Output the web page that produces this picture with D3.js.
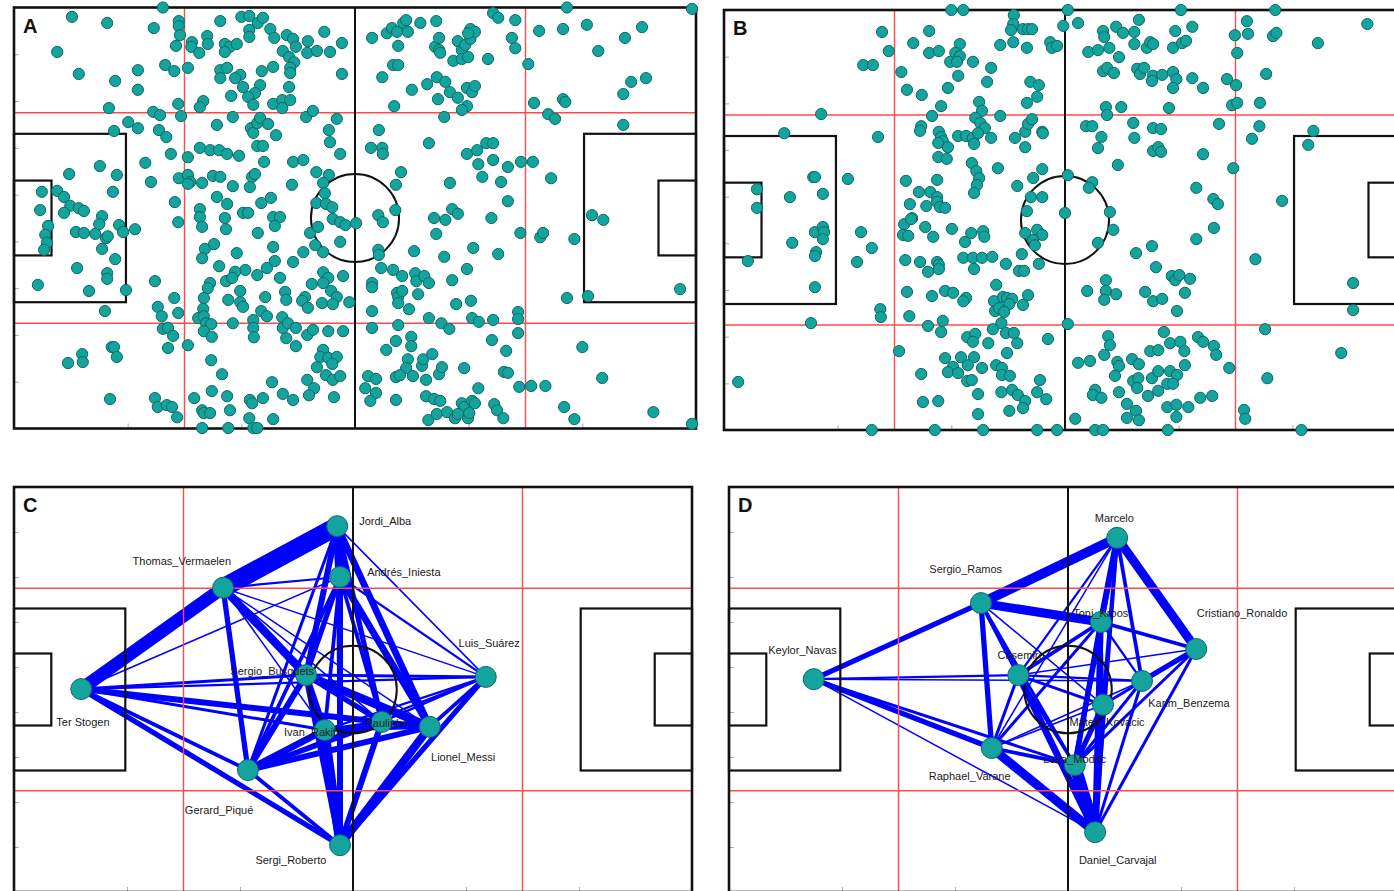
<!DOCTYPE html>
<html>
<head>
<meta charset="utf-8">
<script src="https://cdn.jsdelivr.net/npm/d3@7"></script>
<style>
  html, body { margin: 0; padding: 0; background: #ffffff; }
  svg { display: block; font-family: "Liberation Sans", Arial, Helvetica, sans-serif; }
</style>
</head>
<body>
<svg id="chart" width="1394" height="891"></svg>
<script>
// Pitch coordinates: x along the length (0–120), y across the width (0–90, measured from the top touchline).

// Event locations, team A (panel A)
const touchesA = [
[26.2,0],[10.2,2],[16.4,3.3],[24.6,4.4],[29,2.9],[29,4],[29.2,5.9],[7.6,9.5],[11.4,14.2],[17.8,15.7],[21.8,13.4],[21.8,17.6],[26.6,12.3],[28.2,13.6],[28.5,8.2],[30.6,12.9],[31.3,7.4],[31.2,8.4],[32.6,9.7],[34,6.1],[34.1,7.8],[36.3,2.9],[40,2],[41.4,1.8],[42.9,3.3],[43.8,2.2],[41.4,4.8],[41.4,6.3],[45.1,4.6],[45.8,6.5],[37.1,7.8],[38,8.4],[39.2,7.8],[37.1,9.5],[48,5.9],[49.1,6.7],[49.6,8.4],[47.3,9.3],[48.4,10.6],[49.3,11.7],[51.7,7.2],[51.6,9.7],[53.3,9.3],[54.6,5.2],[55.6,9.5],[57.7,7.6],[48.6,12.9],[48.6,14],[48.4,17],[45.6,12.7],[43.6,13.6],[43.3,16.6],[42.4,18.3],[41.2,19.1],[42.1,20.8],[45.6,20.6],[47.2,19.8],[47.2,21.5],[48.6,19.8],[39.8,14.4],[38.9,15.1],[36.3,13.4],[36.3,15.1],[37.5,12.9],[40.3,17],[38.2,18.9],[33.3,20],[32.7,21.3],[28.9,20.6],[29.4,23.2],[16.7,21.5],[24.5,22.3],[25.7,23],[20.1,24.5],[21.8,25.8],[17.6,26.4],[25.5,26.2],[26.8,27.7],[27.6,31.3],[23.1,33.2],[24.1,37.3],[28.3,41.6],[29,36.5],[30.6,32],[30.6,35.8],[31,37.3],[30.6,37.7],[32.7,30],[34.5,30.5],[36.1,30.5],[37.5,31.3],[39.6,31.7],[35.7,25.1],[38.5,23.4],[41.7,25.8],[42.1,26.8],[42.8,24.7],[43.3,23.6],[44.7,24.9],[46.1,27.3],[42.8,29.6],[43.8,29.6],[44,33],[49.1,33],[50.9,32.6],[51.4,23.4],[52.6,22.1],[56.8,23.8],[55.4,26.2],[55.6,28.8],[57.4,31.3],[53.2,35.2],[55.4,35.8],[54.4,37.5],[48.9,37.9],[41.9,36.2],[42.4,35.6],[41.5,38.4],[38.5,38.2],[35,36],[36.3,36.2],[33.1,37.5],[35.7,40.5],[37.5,42],[32.7,43.1],[40.3,43.9],[41.2,43.9],[43.5,41.8],[45.2,40.7],[45.6,44.8],[46.8,44.8],[54.7,39.7],[53.2,41.8],[54.9,42],[56,42.7],[15.1,33.9],[18.1,35.8],[17.4,39.4],[9.7,35.6],[4.9,39.4],[4.6,43.3],[7.6,39.2],[8.8,40.5],[9.9,42.4],[11.4,42.9],[12.3,43.5],[8.8,43.9],
[15.5,44.6],[6,46.7],[5.5,48.6],[5.8,50.3],[5.3,51.8],[10.9,48],[12.3,48.2],[14.3,48.4],[16.2,49.3],[16.5,48.9],[15,46.3],[18.5,46.5],[19.2,48],[21.3,47.4],[15.5,51.6],[17.8,53.8],[11.1,55.7],[16.4,56.8],[16.4,58],[4.2,59.3],[13.2,60.6],[19.7,60.4],[16,64.9],[24.8,58.5],[28.2,62.1],[25.3,64],[26,66],[28.9,65.3],[26.2,68.7],[27.1,68.5],[28,70.2],[27.1,72.8],[30.6,72.2],[28.9,45.9],[32.7,44.8],[33.1,46.9],[37.1,45],[37.3,47.4],[42.9,48.2],[45.9,46.7],[45.6,51.2],[33.6,51.6],[33.1,53.6],[35.2,50.6],[39.2,52.5],[36.1,55.3],[40.7,56.1],[38.9,56.5],[37.3,58.5],[38.4,57.8],[42.8,57.2],[44.5,55.7],[45.9,54.2],[46.8,57.8],[49.1,54.4],[50.9,52.3],[53,50.8],[54.4,52.3],[52.1,48.2],[53.5,46.9],[57.4,50.1],[56.1,45.2],[57.4,45.9],[58.3,46.5],[34.5,58.9],[34.1,60],[33.4,62.1],[39.8,60.6],[37.7,62.5],[39.8,63],[40.3,64],[44.2,61.9],[47.7,60.8],[47.9,62.5],[51.2,61.9],[50.7,62.7],[51.7,64.2],[54.2,63.2],[52.4,59.1],[54.4,56.6],[55.3,57.8],[54.4,58.9],[57.9,57.4],[55.8,60.6],[56.8,61.9],[56.1,63.4],[59,63],[33.3,64.4],[32.4,66.4],[33.4,66],[33.8,67.5],[34.7,67.7],[33.4,69.2],[34.8,70.4],[38.5,67.5],[42.1,66.8],[42.1,68.5],[42.2,70.5],[43.5,64.9],[44.5,66],[47.2,66.2],[47.3,68.5],[48.2,67.5],[49.6,68.5],[47.9,70.7],[49.6,72.4],[51.6,70],[52.6,68.9],[55.3,69.2],[57.9,69.2],[54.4,73.2],[53.9,74.7],[55.3,74.9],[56.8,74.7],[53.3,76.9],[56,76.2],[54.9,78.6],[56.1,79.6],[57.4,78.8],[51.6,79.6],[52.8,81.4],[51.9,82.9],[56.3,83.3],[34.7,75.4],[36.6,78.4],[45.4,80.1],[47.3,82.6],[49.1,83.9],[34.8,82],[37.5,83.1],[38,86.1],[31.7,83.5],[33.1,86.1],[33.4,86.7],[34.5,86.7],[41.5,83.9],[41.9,84.6],[43.8,83.5],[41.4,87.8],[45.6,88],[33.1,89.9],[37.7,89.9],[42.1,89.9],[42.8,89.9],[16.9,83.7],[17.2,72.6],[17.6,72.6],[18.1,74.7],[12,74.1],[12.1,75.8],[9.5,76],[24.8,83.5],[25.3,85.4],[26.9,85],[27.8,85.4],[28.7,87.6],
[57.7,14.2],[63,6.5],[65.6,5.5],[66.5,4.4],[67.4,5.2],[68.5,3.3],[69,2.7],[69.3,5.2],[71.5,3.3],[74.3,2.9],[67.6,8.2],[66.7,12.3],[67.6,12.3],[64.8,14.9],[70,17.6],[72.7,16.4],[66.9,21.1],[74.1,8.4],[74.8,9.1],[74.8,6.5],[75,9.7],[78.1,7.2],[78.8,9.1],[79.4,8],[80.3,6.7],[80.3,4.6],[81.1,5.2],[79.9,5.5],[77.3,11.4],[78.8,11],[79.9,10.6],[83.4,11],[84.3,1.2],[85.2,2.2],[88.2,2.7],[87.6,6.5],[88.2,8.7],[74.4,14.9],[75.9,15.9],[76.7,18.1],[78.1,19.3],[74.6,19.6],[79.7,17.2],[80.6,18.1],[81.1,16.8],[79.7,21.1],[78.8,21.9],[75.7,23.4],[90.5,12.1],[91.5,20.4],[92.4,5],[96.6,4.6],[97.3,0],[100.8,3.7],[96.6,19.6],[97,20.2],[94,22.8],[95.2,23.8],[102.8,9.3],[107.5,6.5],[110.5,4.2],[107.2,18.5],[108.6,15.9],[111.2,15.1],[107.2,25.1],[119.3,0.3],[64.2,26.2],[62.8,30],[64.8,30],[64.9,31.3],[73,29],[79.7,31.3],[81.5,30.5],[83.1,29],[84.3,29],[81.7,33.5],[84.3,32.6],[86.9,34.1],[89.2,33],[91.3,33],[82.4,36.2],[85.7,37.3],[94.5,36.5],[68.1,35.2],[67.2,37.9],[76.7,37.5],[86.9,41.4],[77.1,43.1],[78.1,44.1],[67.1,43.3],[64.1,44.4],[73.9,45],[75.9,45.4],[84,45],[101.7,44.4],[103.7,45.4],
[64.9,45.9],[60.2,46.1],[74.3,48.4],[70.4,52.1],[75.7,53.3],[80.8,51.4],[85.2,52.7],[89.1,48.2],[92.6,49.1],[93.1,48.2],[98.6,49.5],[64.1,51.8],[64.2,52.9],[64.6,55.7],[66.7,56.1],[68.3,57.4],[70.6,56.8],[70.8,58.5],[72.2,57.4],[73,58.9],[63,58.9],[63,59.8],[77.1,58.3],[79.7,55.9],[67.4,61],[67.6,61.9],[68.3,60.6],[67.6,63.2],[71.1,61.3],[63,64.9],[69.5,64.5],[73,66.4],[77.8,63.4],[80.4,62.7],[75.2,67.5],[76.6,68.7],[80.6,66.4],[81.8,67.2],[84.3,66.8],[88.7,65.1],[88.7,66.6],[88.7,69.6],[63,68.5],[67.6,67.9],[69.9,70.4],[69.9,72.4],[65.5,73.2],[67.2,71.3],[69.3,75.2],[69,77.1],[71.8,76.6],[72,75.2],[73.6,74.1],[67.2,79],[67.9,78.6],[70.2,78.8],[72.5,79.6],[74.8,78.4],[75.3,76.9],[62.3,78.8],[63.7,79.4],[61.8,81.4],[63.7,82.4],[62.7,84.1],[67.2,83.9],[72.5,83.1],[73.9,83.7],[75,84.1],[79.2,77.1],[84.1,71.1],[86.6,73.4],[86.2,77.9],[86.9,78.1],[81.7,81.4],[88.9,81.1],[91,80.9],[93.5,80.9],[78.8,84.6],[79.2,85.4],[80.6,84.1],[81.1,84.6],[72.9,88.2],[74.4,86.9],[76.2,86.5],[77.6,87.8],[78.1,86.9],[79.9,87.8],[80.1,86.7],[84.5,84.8],[85,86.1],[86.1,87.8],[96.8,85.4],[98.6,88],[100,72.6],[101,61.7],[97.3,62.1],[103.5,79.2],[112.5,86.5],[117.2,60.2],[119.3,89]
];

// Event locations, team B (panel B)
const touchesB = [
[40,0],[42.1,0],[27.8,4.7],[29,8.8],[24.5,11.8],[26.2,11.8],[31.2,13.3],[32.2,17.1],[34.8,18.2],[33.3,7.1],[36.1,4.5],[36.1,9.2],[37.8,8.8],[41.5,7.3],[40.7,9.2],[41.5,9.9],[39.8,11.1],[41,11.1],[43.8,11.1],[41.2,14.1],[39.4,16.7],[38.2,20.6],[47,12.4],[46.3,15.4],[44.9,19.7],[45.4,21.6],[48.6,7.5],[51,1.1],[50.9,3],[50.5,4.3],[50.9,6.9],[52.6,4.1],[53.5,4.1],[54.2,4.1],[53.3,8.1],[53.9,15.4],[55.4,16.1],[53.3,19.9],[55.1,18.6],[57.4,6.9],[57.7,8.1],[58.6,7.7],[36.6,22.7],[34.7,24.9],[34.5,25.9],[37.8,26.1],[38.2,27.2],[38.5,28.1],[37.7,28.5],[39.4,29.4],[41.2,27],[42.6,27],[43.8,27.4],[44,28.7],[44.2,23.1],[45.1,24.2],[45.9,25.3],[44.7,26.4],[47,27.4],[48.6,22.7],[51.2,27.4],[53,29.4],[53,26.1],[53.5,24.4],[54.2,23.4],[56,26.1],[37.7,31.5],[39.2,31.9],[43.6,32.8],[44.4,34.5],[44.9,36],[44.5,37.5],[44,39.2],[48.2,33.9],[56,34.1],[54.4,36],[51.6,37.7],[54,40.1],[56,40.1],[53.3,43.1],[32,36.6],[37.5,36.4],[34.3,39],[36.3,39],[37.5,40.1],[37.5,41.1],[38,42.2],[38.9,42.4],[32.7,41.6],[35.6,42],[33.1,44.6],[17.1,22.3],[10.6,26.4],[27.1,27.2],[15.7,35.8],[16,35.8],[21.8,36.2],[5.8,38.4],[5.8,42.4],[11.6,40.1],[17.4,39.4],
[60.5,0],[59.7,3.4],[62.3,2.8],[64.1,9],[65.8,8.6],[67.8,8.1],[66.7,4.5],[66.9,5.8],[69,3.6],[70.2,4.9],[72.2,4.7],[73,2.1],[69.5,10.1],[72.2,7.3],[74.4,8.1],[75,6.9],[75.5,7.3],[79.4,4.5],[79,8.1],[80.6,7.1],[81.3,6.6],[82.4,3.6],[80.4,0],[66.7,13.1],[67.4,12.4],[68.6,13.5],[72.7,12.6],[73.2,13.7],[73.9,12.4],[75.5,14.1],[75.3,15.2],[77.1,13.9],[79,13.3],[79.6,14.8],[79,16.7],[82.4,14.6],[84.3,16.7],[67.2,20.8],[67.4,22.5],[69.9,20.8],[78.3,21],[88.5,14.8],[90.1,16.1],[89.4,20.4],[90.3,19.9],[89.9,5.4],[90.3,9.2],[92,2.4],[92.2,5.1],[96.6,5.6],[97.2,4.9],[97,0],[95.4,13.7],[94.3,19.9],[104.5,7.1],[113.2,3],[56.1,26.4],[63.7,24.9],[64.8,24.9],[66.4,27.2],[65.8,29.6],[72,24.2],[72.2,27.4],[75.5,25.3],[76.9,25.5],[75.5,30.2],[76.4,29.4],[76.9,30.4],[69.3,33.2],[84.3,30.9],[87.1,24.4],[89.6,33.9],[94.2,24.9],[92.9,27.6],[103.7,25.9],[102.8,28.9],[60.5,35.4],[64.8,36.9],[64.2,38.1],[83.1,38.1],[86.1,40.5],[86.9,41.6],[98.2,40.9],[60,43.5],[67.9,43.3],
[16,47.6],[17.4,46.5],[17.6,47.6],[17.4,49.1],[12,49.9],[16.2,51.9],[16,52.7],[4.2,53.8],[16,59.4],[24.1,47.6],[26,51],[23.4,54],[27.5,64.1],[27.6,65.8],[15.3,67.1],[2.5,79.7],[30.8,73.1],[31.7,45.9],[31.5,48.2],[32.4,48.4],[32.9,44.8],[35.4,46.5],[36.8,48.6],[40.1,46.9],[43.5,47.8],[42.4,49.7],[45.6,47.4],[45.8,48.6],[31.9,53.6],[34.5,54],[35.9,56.1],[37.5,54],[37.8,54.6],[37.8,55.5],[42.1,53.1],[43.8,53.1],[45.4,53.1],[47.2,52.9],[44,55.5],[49.6,54.4],[52.4,52.3],[51.9,55.9],[52.8,55.9],[55.4,54.4],[53,47.8],[55.1,47.1],[56,48.2],[54.4,49.3],[54.7,50.4],[32.2,60.4],[36.6,61.3],[38.9,60.2],[40.3,60.6],[42.6,61.7],[42.1,62.4],[47.9,58.9],[47.5,62.4],[49.1,61.5],[49.8,61.7],[50.7,61.9],[50.2,63],[53.5,61.1],[52.6,63.2],[47.7,64.5],[48.4,63.9],[49.3,64.7],[48.8,67.1],[32.6,65.6],[35.9,67.7],[38.5,66.6],[38.2,69],[42.8,70.1],[44.2,69.4],[43.8,71.1],[46.5,71.4],[47.3,68.4],[49.6,69.2],[51,69.2],[51.6,71.4],[57,70.5],[38.9,74.6],[41.7,74.4],[44,74.4],[42.9,76.1],[45.4,76.7],[40.3,76.5],[39.4,77.6],[41.2,77.8],[34.7,78],[42.8,79.5],[43.6,79.3],[47.9,76.1],[48.9,76.7],[48.9,78.2],[50.3,78.4],[49.8,73.5],[44.7,82.3],[48.8,81.9],[50.7,81.4],[51.7,82.5],[53,83.8],[52.6,85.3],[55.1,81.9],[56.7,83.4],[55.6,79.3],[35,84],[37.7,83.8],[44.7,86.6],[50.2,85.9],[26,90],[37.1,90],[45.6,90],[55.1,90],[58.6,90],
[68.5,47.1],[65.8,49.9],[72.5,52.1],[75.3,50.6],[76,55.1],[83.1,49.1],[86.2,46.7],[78.8,57],[79.4,57.9],[80.1,56.8],[82,57.6],[67.2,57.9],[67.2,60.2],[66.9,62.1],[69,60.9],[63.9,60.2],[74.1,60.4],[75.5,62.4],[77.1,61.9],[81.1,60.6],[79.7,64.5],[60.5,67.3],[93.5,53.4],[110.7,58.5],[110.7,64.3],[95.2,68.4],[108.6,73.5],[95.6,78.9],[91.5,85.7],[91.7,87.6],[101.6,90],[67.6,69.9],[67.9,71.8],[66.9,73.9],[62.3,75.6],[64.4,75.2],[69.2,75.4],[69.5,76.3],[68.8,78.4],[71.8,74.8],[73,75.9],[75,73.1],[76.4,72.9],[77.4,69],[78.5,71.4],[80.3,71.1],[81,73.1],[83.4,70.1],[84.3,71.1],[86.2,72],[86.6,73.9],[88.9,76.7],[81.1,76.1],[72,79.5],[72.9,78.9],[72.7,81],[75.3,78.9],[76.4,77.4],[78.5,77.4],[79.7,78.2],[78,80.1],[79,80.1],[65.3,81.4],[64.9,82.5],[66.4,83.1],[69.5,81.9],[74.6,82.7],[76.4,81.6],[83.8,83.1],[85.9,82.7],[70.9,84.4],[72.5,85.9],[70.9,87.4],[73,87.9],[78,85.1],[79.6,84.6],[79.6,87.2],[81.7,85.1],[61.8,87.6],[65.3,90],[66.7,90],[78.1,90]
];

// Passing network, panel C
const playersC = ["Ter Stogen","Thomas_Vermaelen","Jordi_Alba","Andrés_Iniesta","Sergio_Busquets","Ivan_Rakitic","Paulinho","Lionel_Messi","Luis_Suárez","Gerard_Piqué","Sergi_Roberto"];
const avgPosC = [[11.9,44.9],[37.0,22.4],[57.2,8.7],[57.7,20.0],[51.7,41.8],[55.0,54.0],[65.1,52.2],[73.6,53.3],[83.5,42.2],[41.4,62.9],[57.7,79.6]];
const labelAtC = [[12.2,52.2],[29.7,16.4],[65.7,7.6],[69.0,18.9],[45.7,40.9],[53.1,54.4],[66.0,52.4],[79.5,60.0],[84.1,34.7],[36.3,71.8],[49.0,82.9]];
// [passer index, receiver index, passes]
const passesC = [
[1,2,25],[0,1,17],[2,3,12],[2,7,9],[2,6,7],[2,4,8],[2,10,4],[2,8,2],[2,9,4],[0,3,2],[1,3,3],[3,4,7],[3,7,9],[3,6,5],[3,5,5],[3,10,8],[3,9,5],[3,8,3],
[1,4,11],[1,9,7],[1,8,2],[1,7,2],[1,6,2],[1,5,2],[0,6,8],[0,7,5],[0,5,4],[0,4,4],[0,8,3],[0,9,5],[0,10,7],
[4,7,11],[4,6,7],[4,5,8],[4,9,8],[4,10,8],[4,8,4],[9,5,9],[9,6,7],[9,7,8],[9,10,5],[9,8,3],
[5,10,12],[5,7,5],[5,6,5],[5,8,3],[10,7,11],[10,6,8],[10,8,7],[7,8,5],[6,8,3],[6,7,7]
];

// Passing network, panel D
const playersD = ["Keylor_Navas","Sergio_Ramos","Marcelo","Toni_Kroos","Cristiano_Ronaldo","Casemiro","Karim_Benzema","Mateo_Kovacic","Raphael_Varane","Luka_Modric","Daniel_Carvajal"];
const avgPosD = [[15.0,42.7],[44.6,25.8],[68.7,11.3],[65.8,30.0],[82.7,36.0],[51.2,41.8],[73.1,43.1],[66.2,48.4],[46.5,58.0],[61.2,61.8],[64.8,76.7]];
const labelAtD = [[13.0,36.3],[41.9,18.3],[68.2,6.8],[65.8,28.1],[90.8,28.1],[51.7,37.3],[81.4,47.9],[66.9,52.2],[42.6,64.2],[61.2,60.4],[68.8,82.9]];
const passesD = [
[1,2,13],[1,3,12],[2,4,12],[0,1,7],[0,8,7],[0,5,3],[0,6,2],[0,10,2],[0,9,4],[1,8,7],[1,5,5],[1,9,4],[1,7,2],[1,10,1],
[2,3,8],[2,5,3],[2,6,5],[2,7,5],[2,9,7],[2,10,5],[2,8,2],[3,4,5],[3,5,5],[3,8,4],[3,9,7],[3,10,8],[3,6,3],[3,7,4],
[4,6,7],[4,10,4],[4,7,4],[4,9,4],[4,5,2],[5,8,4],[5,10,9],[5,7,4],[5,6,3],[5,9,4],
[8,10,12],[8,9,5],[8,6,2],[8,7,2],[9,10,16],[9,7,7],[9,6,4],[10,7,8],[10,6,4]
];

// Axis tick positions (unlabelled)
const xTicks = [20, 40, 60, 80, 100];
const yTicks = [10, 20, 30, 40, 50, 60, 70, 80];

// Pitch markings in pitch units
const LENGTH = 120, WIDTH = 90;
const penaltyDepth = 19.7, penaltyTop = 27, penaltyBottom = 63;
const goalDepth = 6.6, goalTop = 37, goalBottom = 53;
const circleRadius = 7.75;

const svg = d3.select("#chart");
const TEAL = "#14a39d", TEAL_EDGE = "#0a6a66";

const panels = [
  { id: "A", left: 14,  top: 7.5, width: 682, height: 421 },
  { id: "B", left: 724, top: 10,  width: 682, height: 420 },
  { id: "C", left: 14,  top: 487, width: 678, height: 405 },
  { id: "D", left: 729, top: 487, width: 678, height: 405 }
];

function scalesFor(p) {
  return {
    x: d3.scaleLinear().domain([0, LENGTH]).range([p.left, p.left + p.width]),
    y: d3.scaleLinear().domain([0, WIDTH]).range([p.top, p.top + p.height])
  };
}

function drawTicks(g, s, p) {
  const left = g.append("g").attr("transform", `translate(${p.left},0)`)
    .call(d3.axisLeft(s.y).tickValues(yTicks).tickSize(-5).tickFormat(""));
  const bottom = g.append("g").attr("transform", `translate(0,${p.top + p.height})`)
    .call(d3.axisBottom(s.x).tickValues(xTicks).tickSize(-5).tickFormat(""));
  [left, bottom].forEach(a => {
    a.select(".domain").remove();
    a.selectAll("line").attr("stroke", "#aaaaaa").attr("stroke-width", 1);
  });
}

function drawQuarterLines(g, s) {
  const red = g.append("g").attr("stroke", "#ff4a4a").attr("stroke-width", 1.4);
  [LENGTH / 4, LENGTH * 3 / 4].forEach(v =>
    red.append("line").attr("x1", s.x(v)).attr("x2", s.x(v)).attr("y1", s.y(0)).attr("y2", s.y(WIDTH)));
  [WIDTH / 4, WIDTH * 3 / 4].forEach(v =>
    red.append("line").attr("x1", s.x(0)).attr("x2", s.x(LENGTH)).attr("y1", s.y(v)).attr("y2", s.y(v)));
}

function drawMarkings(g, s) {
  const k = g.append("g").attr("stroke", "#111").attr("fill", "none").attr("stroke-width", 2.2);
  const rect = (x0, x1, y0, y1, w) => k.append("rect")
    .attr("x", s.x(x0)).attr("y", s.y(y0))
    .attr("width", s.x(x1) - s.x(x0)).attr("height", s.y(y1) - s.y(y0))
    .attr("stroke-width", w || 2.2);
  rect(0, penaltyDepth, penaltyTop, penaltyBottom);
  rect(0, goalDepth, goalTop, goalBottom);
  rect(LENGTH - penaltyDepth, LENGTH, penaltyTop, penaltyBottom);
  rect(LENGTH - goalDepth, LENGTH, goalTop, goalBottom);
  k.append("line").attr("x1", s.x(LENGTH / 2)).attr("x2", s.x(LENGTH / 2))
    .attr("y1", s.y(0)).attr("y2", s.y(WIDTH)).attr("stroke-width", 2);
  k.append("circle").attr("cx", s.x(LENGTH / 2)).attr("cy", s.y(WIDTH / 2))
    .attr("r", s.x(LENGTH / 2 + circleRadius) - s.x(LENGTH / 2)).attr("stroke-width", 2);
  rect(0, LENGTH, 0, WIDTH, 2.6);
}

function drawLetter(g, p) {
  g.append("text").attr("x", p.left + 9).attr("y", p.top + 25)
    .attr("font-size", 20).attr("font-weight", "bold").attr("fill", "#111")
    .text(p.id);
}

function scatterPanel(p, data) {
  const g = svg.append("g");
  const s = scalesFor(p);
  drawTicks(g, s, p);
  drawQuarterLines(g, s);
  drawMarkings(g, s);
  g.append("g").selectAll("circle").data(data).join("circle")
    .attr("cx", d => s.x(d[0])).attr("cy", d => s.y(d[1])).attr("r", 5.6)
    .attr("fill", TEAL).attr("stroke", TEAL_EDGE).attr("stroke-width", 1);
  drawLetter(g, p);
}

function networkPanel(p, names, pos, labelAt, passes) {
  const g = svg.append("g");
  const s = scalesFor(p);
  const width = d3.scaleLinear().domain([0, 24]).range([0, 18]);
  drawTicks(g, s, p);
  const sorted = passes.slice().sort((a, b) => a[2] - b[2]);
  g.append("g").selectAll("line").data(sorted).join("line")
    .attr("x1", d => s.x(pos[d[0]][0])).attr("y1", d => s.y(pos[d[0]][1]))
    .attr("x2", d => s.x(pos[d[1]][0])).attr("y2", d => s.y(pos[d[1]][1]))
    .attr("stroke", "#0000ff").attr("stroke-width", d => width(d[2]));
  drawQuarterLines(g, s);
  drawMarkings(g, s);
  g.append("g").selectAll("circle").data(pos).join("circle")
    .attr("cx", d => s.x(d[0])).attr("cy", d => s.y(d[1])).attr("r", 10.5)
    .attr("fill", TEAL).attr("stroke", TEAL_EDGE).attr("stroke-width", 1);
  g.append("g").selectAll("text").data(names).join("text")
    .attr("x", (d, i) => s.x(labelAt[i][0])).attr("y", (d, i) => s.y(labelAt[i][1]))
    .attr("text-anchor", "middle").attr("dominant-baseline", "central")
    .attr("font-size", 11).attr("fill", "#1a1a1a")
    .text(d => d);
  drawLetter(g, p);
}

scatterPanel(panels[0], touchesA);
scatterPanel(panels[1], touchesB);
networkPanel(panels[2], playersC, avgPosC, labelAtC, passesC);
networkPanel(panels[3], playersD, avgPosD, labelAtD, passesD);
</script>
</body>
</html>
